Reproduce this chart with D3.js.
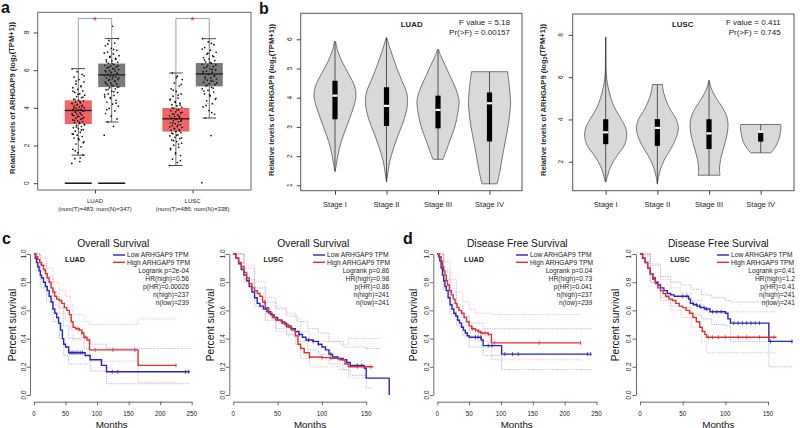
<!DOCTYPE html>
<html><head><meta charset="utf-8">
<script src="https://cdn.jsdelivr.net/npm/d3@7"></script>
<style>body{margin:0;background:#fff}svg{display:block;font-family:"Liberation Sans",Arial,sans-serif}</style>
</head><body><svg id="c" width="800" height="428"></svg>
<script>
// ================= DATA =================
// Panel a: box plots
const cancerTypes = ["LUAD", "LUSC"];
const sampleLabels = ["(num(T)=483; num(N)=347)", "(num(T)=486; num(N)=338)"];
const yTicksA = [0, 2, 4, 6, 8];
// [lowWhisker, Q1, median, Q3, highWhisker]
const boxTumor = [[1.49, 3.14, 3.86, 4.40, 6.08], [0.94, 2.74, 3.42, 3.99, 5.85]];
const boxNormal = [[3.25, 5.10, 5.75, 6.35, 7.68], [3.46, 5.14, 5.80, 6.38, 7.67]];
const dotsLuadT = [1.05,1.15,1.3,1.5,1.62,1.8,1.93,2.08,2.2,2.31,2.4,2.48,2.55,2.62,2.7,2.76,2.84,2.9,2.95,3.01,3.07,3.12,3.17,3.22,3.27,3.31,3.36,3.4,3.45,3.5,3.55,3.58,3.62,3.66,3.7,3.74,3.78,3.82,3.86,3.9,3.93,3.97,4.01,4.05,4.09,4.13,4.18,4.22,4.26,4.31,4.36,4.41,4.47,4.53,4.6,4.67,4.74,4.82,4.9,4.98,5.07,5.17,5.27,5.38,5.5,5.63,5.78,5.92,6.06,
  1.35,1.72,2.15,2.35,2.6,2.82,2.98,3.1,3.24,3.34,3.44,3.53,3.61,3.69,3.77,3.85,3.91,3.99,4.07,4.15,4.24,4.33,4.44,4.57,4.72,4.88,5.12,5.42,5.7];
const dotsLuadN = [2.55,3.02,3.25,3.41,3.56,3.7,3.84,3.97,4.09,4.2,4.31,4.4,4.49,4.58,4.66,4.74,4.81,4.88,4.95,5.01,5.07,5.12,5.17,5.22,5.27,5.32,5.37,5.42,5.46,5.51,5.55,5.59,5.63,5.67,5.71,5.75,5.79,5.83,5.87,5.91,5.95,5.99,6.03,6.08,6.12,6.17,6.21,6.26,6.31,6.36,6.42,6.48,6.55,6.62,6.69,6.77,6.86,6.95,7.05,7.16,7.29,7.43,7.58,7.68,8.33,
  3.9,4.25,4.55,4.7,4.85,4.98,5.1,5.2,5.3,5.4,5.5,5.58,5.66,5.74,5.82,5.9,5.98,6.06,6.15,6.24,6.34,6.45,6.58,6.73,6.9,7.1,7.38];
const dotsLuscT = [0.94,1.1,1.28,1.47,1.63,1.78,1.91,2.02,2.12,2.21,2.29,2.37,2.44,2.51,2.57,2.63,2.69,2.75,2.8,2.86,2.91,2.96,3.01,3.06,3.11,3.16,3.21,3.26,3.31,3.36,3.4,3.44,3.48,3.53,3.58,3.63,3.68,3.73,3.79,3.85,3.91,3.97,4.03,4.1,4.17,4.25,4.33,4.42,4.52,4.62,4.74,4.87,5.01,5.16,5.32,5.5,5.68,5.85,
  1.2,1.55,1.85,2.08,2.26,2.41,2.54,2.66,2.78,2.89,2.99,3.09,3.19,3.29,3.38,3.46,3.56,3.66,3.76,3.88,4.0,4.14,4.29,4.47,4.68,4.94,5.24,5.6];
const dotsLuscN = [0.03,2.53,3.46,3.66,3.86,4.05,4.22,4.37,4.51,4.63,4.74,4.84,4.93,5.01,5.09,5.16,5.23,5.29,5.35,5.41,5.47,5.53,5.59,5.65,5.71,5.77,5.83,5.89,5.95,6.01,6.07,6.13,6.19,6.25,6.31,6.37,6.44,6.51,6.59,6.67,6.76,6.85,6.95,7.06,7.2,7.35,7.5,7.67,
  3.75,4.13,4.45,4.69,4.89,5.05,5.2,5.32,5.44,5.56,5.68,5.8,5.92,6.04,6.16,6.28,6.41,6.55,6.72,6.9,7.12,7.42];

// Panel b: violins
const stages = ["Stage I", "Stage II", "Stage III", "Stage IV"];
const yTicksLuadB = [1, 2, 3, 4, 5, 6];
const yTicksLuscB = [2, 4, 6, 8];
// violin outlines: [value, relative half width]
const violinLuad = [
  [[1.47,0],[1.6,0.04],[2.0,0.13],[2.5,0.3],[3.0,0.55],[3.5,0.8],[3.9,0.97],[4.1,1.0],[4.4,0.93],[4.8,0.66],[5.2,0.36],[5.6,0.13],[5.92,0.03]],
  [[1.12,0],[1.3,0.04],[1.8,0.15],[2.3,0.35],[2.8,0.6],[3.3,0.86],[3.8,1.0],[4.2,0.95],[4.6,0.72],[5.0,0.5],[5.4,0.3],[5.8,0.12],[6.05,0.02]],
  [[1.89,0.24],[2.2,0.4],[2.6,0.6],[3.0,0.8],[3.5,0.95],[3.9,1.0],[4.3,0.85],[4.7,0.6],[5.1,0.35],[5.4,0.15],[5.65,0.02]],
  [[1.05,0.36],[1.5,0.5],[2.0,0.62],[2.5,0.75],[3.0,0.88],[3.5,0.97],[3.8,1.0],[4.2,0.97],[4.5,0.93],[4.89,0.86]]
];
const violinLusc = [
  [[1.05,0.02],[1.3,0.08],[1.8,0.25],[2.3,0.55],[2.8,0.9],[3.2,1.0],[3.6,0.95],[4.0,0.75],[4.5,0.45],[5.0,0.25],[5.5,0.12],[5.9,0.05],[6.3,0.02],[7.0,0.01],[7.9,0.005]],
  [[0.94,0],[1.3,0.06],[1.8,0.2],[2.3,0.45],[2.8,0.75],[3.3,0.95],[3.6,1.0],[4.0,0.9],[4.5,0.6],[5.0,0.38],[5.4,0.27],[5.65,0.24]],
  [[1.36,0.52],[1.7,0.5],[2.1,0.55],[2.6,0.68],[3.1,0.82],[3.6,0.9],[4.0,0.88],[4.5,0.68],[5.0,0.35],[5.5,0.1],[5.84,0.02]],
  [[2.42,0.48],[2.7,0.7],[3.0,0.85],[3.3,0.92],[3.6,0.97],[3.76,0.95]]
];
// [Q1, median, Q3]
const violinBoxLuad = [[3.26,4.07,4.58],[3.03,3.72,4.36],[2.95,3.58,4.07],[2.5,3.81,4.18]];
const violinBoxLusc = [[2.83,3.39,4.01],[2.75,3.6,4.02],[2.6,3.34,4.01],[2.95,3.42,3.38]];
const statsLuadB = ["F value = 5.18", "Pr(>F) = 0.00157"];
const statsLuscB = ["F value = 0.411", "Pr(>F) = 0.745"];

// Panels c,d: Kaplan-Meier curves, [months, survival]
const survTicks = [0, 0.2, 0.4, 0.6, 0.8, 1.0];
const monthTicksLong = [0, 50, 100, 150, 200, 250];
const monthTicksShort = [0, 50, 100, 150];
const legendLabels = ["Low ARHGAP9 TPM", "High ARHGAP9 TPM"];

const osLuadLow = [[0,1],[2,0.97],[4,0.94],[6,0.91],[8,0.88],[10,0.85],[12,0.83],[15,0.8],[18,0.77],[21,0.74],[24,0.7],[27,0.66],[30,0.61],[33,0.58],[36,0.55],[39,0.51],[42,0.46],[45,0.4],[47,0.36],[50,0.34],[55,0.3],[81,0.28],[89,0.25],[107,0.21],[115,0.165],[247,0.165]];
const osLuadHigh = [[0,1],[3,0.98],[6,0.96],[9,0.94],[12,0.92],[15,0.89],[18,0.86],[21,0.83],[24,0.8],[27,0.76],[30,0.73],[33,0.7],[36,0.68],[40,0.67],[44,0.65],[48,0.62],[52,0.6],[56,0.57],[59,0.52],[62,0.48],[66,0.47],[72,0.46],[76,0.44],[79,0.41],[84,0.39],[88,0.32],[165,0.21],[226,0.21]];
const osLuadLowBand = [[[0,1],[10,0.92],[20,0.84],[30,0.73],[40,0.62],[47,0.49],[55,0.4],[90,0.36],[115,0.33],[247,0.33]],
                       [[0,1],[10,0.76],[20,0.66],[30,0.52],[40,0.4],[47,0.28],[55,0.22],[90,0.17],[115,0.08],[247,0.08]]];
const osLuadHighBand = [[[0,1],[10,0.97],[20,0.9],[30,0.8],[40,0.74],[50,0.7],[58,0.64],[62,0.57],[80,0.52],[88,0.5],[165,0.54],[226,0.54]],
                        [[0,1],[10,0.88],[20,0.75],[30,0.64],[40,0.58],[50,0.53],[58,0.46],[62,0.39],[80,0.33],[88,0.24],[165,0.09],[226,0.09]]];
const osLuadLowCens = [57,60,62,65,68,71,74,77,124,133,240,245];
const osLuadHighCens = [70,76,81,97,125,160,225];
const osLuadStats = ["Logrank p=2e-04", "HR(high)=0.56", "p(HR)=0.00026", "n(high)=237", "n(low)=239"];

const osLuscLow = [[0,1],[3,0.97],[6,0.93],[9,0.89],[12,0.85],[15,0.81],[18,0.77],[21,0.73],[24,0.69],[27,0.65],[30,0.63],[34,0.61],[38,0.59],[42,0.57],[46,0.55],[50,0.53],[55,0.51],[60,0.49],[65,0.47],[70,0.45],[74,0.43],[78,0.41],[82,0.39],[90,0.38],[96,0.36],[100,0.34],[104,0.32],[108,0.29],[112,0.27],[118,0.26],[124,0.25],[128,0.23],[132,0.21],[148,0.19],[150,0.12],[176,0.0]];
const osLuscHigh = [[0,1],[3,0.97],[6,0.94],[9,0.91],[12,0.87],[15,0.83],[18,0.79],[21,0.76],[24,0.74],[27,0.72],[30,0.7],[33,0.66],[36,0.62],[40,0.58],[44,0.55],[48,0.53],[54,0.52],[58,0.5],[62,0.48],[66,0.46],[70,0.42],[73,0.36],[76,0.33],[80,0.3],[86,0.27],[100,0.265],[110,0.26],[120,0.25],[126,0.22],[130,0.2],[158,0.2]];
const osLuscLowBand = [[[0,1],[12,0.9],[24,0.76],[36,0.66],[48,0.61],[60,0.56],[72,0.52],[84,0.47],[96,0.44],[108,0.38],[124,0.34],[150,0.33],[166,0.33]],
                       [[0,1],[12,0.8],[24,0.63],[36,0.53],[48,0.47],[60,0.43],[72,0.38],[84,0.32],[96,0.29],[108,0.22],[124,0.18],[132,0.14],[150,0.05],[158,0.05]]];
const osLuscHighBand = [[[0,1],[12,0.92],[24,0.8],[36,0.69],[48,0.62],[60,0.58],[70,0.54],[76,0.45],[86,0.38],[120,0.36],[130,0.4],[166,0.4]],
                        [[0,1],[12,0.82],[24,0.68],[36,0.56],[48,0.45],[60,0.42],[70,0.36],[76,0.26],[86,0.2],[120,0.18],[130,0.12],[158,0.1]]];
const osLuscLowCens = [60,75,85,90,96,110,118,140,145];
const osLuscHighCens = [35,55,65,86,100,110,140,155];
const osLuscStats = ["Logrank p=0.86", "HR(high)=0.98", "p(HR)=0.86", "n(high)=241", "n(low)=241"];

const dfsLuadLow = [[0,1],[2,0.98],[4,0.95],[6,0.9],[8,0.85],[10,0.81],[12,0.77],[14,0.74],[17,0.69],[20,0.64],[23,0.61],[26,0.58],[29,0.56],[32,0.53],[35,0.51],[38,0.48],[41,0.46],[44,0.44],[47,0.42],[50,0.41],[69,0.39],[72,0.35],[101,0.29],[242,0.29]];
const dfsLuadHigh = [[0,1],[3,0.98],[6,0.95],[8,0.91],[10,0.88],[12,0.85],[14,0.81],[16,0.78],[19,0.74],[22,0.71],[25,0.68],[28,0.65],[31,0.62],[34,0.6],[38,0.58],[42,0.55],[46,0.52],[50,0.49],[54,0.47],[60,0.46],[64,0.45],[68,0.44],[80,0.43],[85,0.37],[226,0.37]];
const dfsLuadLowBand = [[[0,1],[10,0.88],[20,0.73],[30,0.63],[40,0.56],[50,0.51],[72,0.47],[101,0.47],[242,0.47]],
                        [[0,1],[10,0.75],[20,0.57],[30,0.49],[40,0.42],[50,0.34],[72,0.28],[101,0.18],[242,0.18]]];
const dfsLuadHighBand = [[[0,1],[10,0.95],[20,0.82],[30,0.73],[40,0.66],[50,0.61],[60,0.58],[85,0.57],[226,0.57]],
                         [[0,1],[10,0.82],[20,0.65],[30,0.55],[40,0.49],[50,0.42],[60,0.38],[85,0.25],[226,0.24]]];
const dfsLuadLowCens = [60,64,68,80,86,106,118,127,236,241];
const dfsLuadHighCens = [55,60,65,70,75,80,90,160,225];
const dfsLuadStats = ["Logrank p=0.04", "HR(high)=0.73", "p(HR)=0.041", "n(high)=237", "n(low)=239"];

const dfsLuscLow = [[0,1],[3,0.97],[6,0.94],[9,0.9],[12,0.86],[15,0.83],[18,0.8],[21,0.78],[24,0.76],[28,0.74],[32,0.72],[36,0.71],[40,0.7],[57,0.68],[59,0.65],[63,0.64],[67,0.63],[71,0.62],[76,0.61],[82,0.59],[100,0.58],[103,0.54],[106,0.51],[151,0.38],[179,0.38]];
const dfsLuscHigh = [[0,1],[3,0.97],[6,0.94],[9,0.9],[12,0.86],[15,0.82],[18,0.79],[21,0.76],[24,0.74],[27,0.72],[30,0.7],[34,0.68],[38,0.67],[42,0.65],[46,0.63],[50,0.62],[54,0.6],[58,0.58],[62,0.55],[66,0.52],[70,0.48],[73,0.45],[76,0.43],[78,0.41],[160,0.41]];
const dfsLuscLowBand = [[[0,1],[12,0.92],[24,0.84],[36,0.8],[48,0.78],[60,0.75],[72,0.71],[84,0.69],[100,0.67],[106,0.66],[151,0.66]],
                        [[0,1],[12,0.8],[24,0.69],[36,0.63],[48,0.62],[60,0.57],[72,0.54],[84,0.5],[100,0.49],[106,0.38],[151,0.2],[179,0.2]]];
const dfsLuscHighBand = [[[0,1],[12,0.93],[24,0.82],[36,0.76],[48,0.72],[60,0.67],[72,0.6],[78,0.59],[160,0.59]],
                         [[0,1],[12,0.8],[24,0.67],[36,0.6],[48,0.55],[60,0.48],[72,0.38],[78,0.3],[160,0.3]]];
const dfsLuscLowCens = [50,55,62,66,70,75,78,85,90,95,110,115,120,125,130,135,140,153,178];
const dfsLuscHighCens = [80,85,92,100,115,125,140,157];
const dfsLuscStats = ["Logrank p=0.41", "HR(high)=1.2", "p(HR)=0.41", "n(high)=241", "n(low)=241"];

// ================= DRAW =================
const svg = d3.select("#c");
const AX = "#444";
const BLUE = "#2424c8", RED = "#e4302c";
const TXT = "#222";

function rotLabel(g, x, y, txt, size, opts = {}) {
  return g.append("text").attr("transform", `translate(${x},${y}) rotate(-90)`)
    .attr("text-anchor", "middle").attr("dy", "0.35em")
    .attr("font-size", size).attr("fill", opts.fill || TXT)
    .attr("font-weight", opts.bold ? "bold" : null).text(txt);
}
function yTitleRel(g, x, y) {
  const t = g.append("text").attr("transform", `translate(${x},${y}) rotate(-90)`)
    .attr("text-anchor", "middle").attr("dy", "0.35em").attr("font-size", 7.6)
    .attr("font-weight", "bold").attr("fill", "#2a2a2a");
  t.append("tspan").text("Relative levels of ARHGAP9 (log");
  t.append("tspan").attr("font-size", 5.5).attr("dy", "0.25em").text("2");
  t.append("tspan").attr("dy", "-0.25em").text("(TPM+1))");
}
function panelLetter(x, y, l) {
  svg.append("text").attr("x", x).attr("y", y).attr("font-size", 16).attr("font-weight", "bold").attr("fill", "#111").text(l);
}

// ---------- Panel a ----------
(function () {
  const g = svg.append("g");
  const y = d3.scaleLinear().domain([-0.36, 9.07]).range([190, 12.3]);
  const x = d3.scalePoint().domain(cancerTypes).range([95, 192.6]);
  const off = 16.7, bw = 27;
  const jit = i => ((i * 0.6180339887) % 1) - 0.5;
  g.append("rect").attr("x", 37.7).attr("y", 12.3).attr("width", 213.3).attr("height", 177.7)
    .attr("fill", "none").attr("stroke", "#666").attr("stroke-width", 1);
  g.append("g").attr("transform", "translate(37.7,0)")
    .call(d3.axisLeft(y).tickValues(yTicksA).tickSize(4).tickFormat(""))
    .call(a => a.select(".domain").remove()).selectAll("line").attr("stroke", AX);
  yTicksA.forEach(t => rotLabel(g, 27, y(t), t, 6.5));
  g.append("g").attr("transform", "translate(0,190)")
    .call(d3.axisBottom(x).tickSize(3.5).tickFormat(""))
    .call(a => a.select(".domain").remove()).selectAll("line").attr("stroke", AX);
  cancerTypes.forEach((ct, i) => {
    g.append("text").attr("x", x(ct)).attr("y", 203).attr("text-anchor", "middle").attr("font-size", 6).attr("fill", TXT).text(ct);
    g.append("text").attr("x", x(ct)).attr("y", 211).attr("text-anchor", "middle").attr("font-size", 6).attr("fill", TXT).text(sampleLabels[i]);
  });
  const groups = [
    { ct: "LUAD", side: -1, box: boxTumor[0], dots: dotsLuadT, fill: "#f26464", jw: 13 },
    { ct: "LUAD", side: 1, box: boxNormal[0], dots: dotsLuadN, fill: "#7a7a7a", jw: 15 },
    { ct: "LUSC", side: -1, box: boxTumor[1], dots: dotsLuscT, fill: "#f26464", jw: 13 },
    { ct: "LUSC", side: 1, box: boxNormal[1], dots: dotsLuscN, fill: "#7a7a7a", jw: 15 }
  ];
  groups.forEach(gr => {
    const cx = x(gr.ct) + gr.side * off;
    const b = gr.box;
    g.append("line").attr("x1", cx).attr("x2", cx).attr("y1", y(b[0])).attr("y2", y(b[4])).attr("stroke", "#333").attr("stroke-width", 0.7);
    g.append("rect").attr("x", cx - bw / 2).attr("width", bw).attr("y", y(b[3])).attr("height", y(b[1]) - y(b[3])).attr("fill", gr.fill);
    [b[0], b[4]].forEach(v => g.append("line").attr("x1", cx - bw / 4).attr("x2", cx + bw / 4).attr("y1", y(v)).attr("y2", y(v)).attr("stroke", "#222").attr("stroke-width", 0.8));
    gr.dots.forEach((v, i) => g.append("circle").attr("cx", cx + jit(i) * gr.jw).attr("cy", y(v)).attr("r", 0.85).attr("fill", "#111"));
    g.append("line").attr("x1", cx - bw / 2).attr("x2", cx + bw / 2).attr("y1", y(b[2])).attr("y2", y(b[2])).attr("stroke", "#222").attr("stroke-width", 1.4);
    if (gr.ct === "LUAD") {
      g.append("line").attr("x1", cx - bw / 2).attr("x2", cx + bw / 2).attr("y1", y(0)).attr("y2", y(0)).attr("stroke", "#111").attr("stroke-width", 1.5);
    }
  });
  cancerTypes.forEach((ct, i) => {
    const xl = x(ct) - off, xr = x(ct) + off, top = y(8.74);
    g.append("path").attr("d", `M${xl},${y(boxTumor[i][4]) - 1}V${top}H${xr}V${y(boxNormal[i][4]) - 1}`)
      .attr("fill", "none").attr("stroke", "#888").attr("stroke-width", 0.8);
    g.append("text").attr("x", x(ct)).attr("y", top + 4).attr("text-anchor", "middle").attr("font-size", 9).attr("font-weight", "bold").attr("fill", "#e33").text("*");
  });
  yTitleRel(g, 12, 98);
})();
panelLetter(1, 13, "a");

// ---------- Panel b ----------
function violinPanel(p) {
  const g = svg.append("g");
  const y = d3.scaleLinear().domain(p.yDom).range([p.y2, p.y1]);
  const x = d3.scalePoint().domain(stages).range(p.xr);
  const w = d3.scaleLinear().domain([0, 1]).range([0, p.maxW]);
  g.append("rect").attr("x", p.x1).attr("y", p.y1).attr("width", p.x2 - p.x1).attr("height", p.y2 - p.y1)
    .attr("fill", "none").attr("stroke", "#555").attr("stroke-width", 1);
  g.append("g").attr("transform", `translate(${p.x1},0)`)
    .call(d3.axisLeft(y).tickValues(p.ticks).tickSize(4).tickFormat(""))
    .call(a => a.select(".domain").remove()).selectAll("line").attr("stroke", AX);
  p.ticks.forEach(t => rotLabel(g, p.tickLabX, y(t), t, 6.5));
  g.append("g").attr("transform", `translate(0,${p.y2})`)
    .call(d3.axisBottom(x).tickSize(4).tickFormat(""))
    .call(a => a.select(".domain").remove()).selectAll("line").attr("stroke", AX);
  stages.forEach(s => g.append("text").attr("x", x(s)).attr("y", 206.7).attr("text-anchor", "middle")
    .attr("font-size", 7.5).attr("fill", TXT).text(s));
  stages.forEach((s, i) => {
    const cx = x(s);
    const v = p.violins[i];
    const area = d3.area().y(d => y(d[0])).x0(d => cx - w(d[1])).x1(d => cx + w(d[1])).curve(d3.curveCatmullRom);
    g.append("path").attr("d", area(v)).attr("fill", "#d9d9d9").attr("stroke", "#555").attr("stroke-width", 0.8);
    g.append("line").attr("x1", cx).attr("x2", cx).attr("y1", y(v[0][0])).attr("y2", y(v[v.length - 1][0]))
      .attr("stroke", "#333").attr("stroke-width", 0.8);
    const b = p.boxes[i];
    const lo = Math.min(b[0], b[2]), hi = Math.max(b[0], b[2]);
    g.append("rect").attr("x", cx - 2.6).attr("width", 5.2).attr("y", y(hi)).attr("height", y(lo) - y(hi)).attr("fill", "#000");
    g.append("rect").attr("x", cx - 2.6).attr("width", 5.2).attr("y", y(b[1]) - 1.1).attr("height", 2.2).attr("fill", "#fff");
  });
  g.append("text").attr("x", p.tagX).attr("y", 26.7).attr("text-anchor", "middle").attr("font-size", 7.8)
    .attr("font-weight", "bold").attr("fill", "#222").text(p.tag);
  p.stats.forEach((s, i) => g.append("text").attr("x", p.statX).attr("y", 24.8 + i * 10).attr("text-anchor", "end")
    .attr("font-size", 8).attr("fill", "#222").text(s));
  yTitleRel(g, p.yTitleX, 100);
}
violinPanel({ x1: 300.7, x2: 522, y1: 13.3, y2: 190.7, yDom: [0.815, 6.89], xr: [335, 489.5], maxW: 21,
  ticks: yTicksLuadB, tickLabX: 290, violins: violinLuad, boxes: violinBoxLuad, tag: "LUAD", tagX: 411.7,
  stats: statsLuadB, statX: 510, yTitleX: 271.7 });
violinPanel({ x1: 572.7, x2: 794, y1: 14, y2: 190.7, yDom: [0.628, 8.99], xr: [605.7, 760.7], maxW: 21,
  ticks: yTicksLuscB, tickLabX: 561, violins: violinLusc, boxes: violinBoxLusc, tag: "LUSC", tagX: 682.7,
  stats: statsLuscB, statX: 780.7, yTitleX: 543.3 });
panelLetter(259, 14, "b");

// ---------- Panels c, d ----------
function survAt(curve, t) {
  let v = curve[0][1];
  for (const d of curve) { if (d[0] <= t) v = d[1]; else break; }
  return v;
}
function kmPanel(p) {
  const g = svg.append("g");
  const x = d3.scaleLinear().domain([0, p.tickMax]).range([p.x0, p.x1]);
  const y = d3.scaleLinear().domain([0, 1]).range([395, 254]);
  const ya = g.append("g").attr("transform", `translate(${p.x0 - 4},0)`)
    .call(d3.axisLeft(y).tickValues(survTicks).tickSize(3.5).tickSizeOuter(0).tickFormat(""));
  const xa = g.append("g").attr("transform", "translate(0,401.7)")
    .call(d3.axisBottom(x).tickValues(p.ticks).tickSize(3.5).tickSizeOuter(0).tickFormat(""));
  [ya, xa].forEach(a => { a.selectAll("line,path").attr("stroke", AX).attr("stroke-width", 0.8); });
  survTicks.forEach(t => rotLabel(g, p.yLabX, y(t), d3.format(".1f")(t), 6.3));
  p.ticks.forEach(t => g.append("text").attr("x", x(t)).attr("y", 415.5).attr("text-anchor", "middle")
    .attr("font-size", 6.3).attr("fill", TXT).text(t));
  const line = d3.line().x(d => x(d[0])).y(d => y(d[1])).curve(d3.curveStepAfter);
  [[p.lowBand, "#8c8cf0"], [p.highBand, "#f29a9a"]].forEach(([bands, col]) => bands.forEach(b =>
    g.append("path").attr("d", line(b)).attr("fill", "none").attr("stroke", col).attr("stroke-width", 0.8)
      .attr("stroke-dasharray", "1.2,1.2").attr("opacity", 0.85)));
  [[p.low, p.lowCens, BLUE], [p.high, p.highCens, RED]].forEach(([c, cens, col]) => {
    g.append("path").attr("d", line(c)).attr("fill", "none").attr("stroke", col).attr("stroke-width", 1.4);
    cens.forEach(t => {
      const yy = y(survAt(c, t));
      g.append("line").attr("x1", x(t)).attr("x2", x(t)).attr("y1", yy - 2).attr("y2", yy + 2).attr("stroke", col).attr("stroke-width", 0.8);
    });
  });
  g.append("text").attr("x", p.titleX).attr("y", 247).attr("text-anchor", "middle").attr("font-size", 10.3).attr("fill", "#111").text(p.title);
  rotLabel(g, p.yTitleX, 325, "Percent survival", 10.2, { fill: "#111" });
  g.append("text").attr("x", p.monthsX).attr("y", 427.5).attr("text-anchor", "middle").attr("font-size", 9.8).attr("fill", "#111").text("Months");
  g.append("text").attr("x", p.tagX).attr("y", 261.5).attr("text-anchor", "middle").attr("font-size", 7.2)
    .attr("font-weight", "bold").attr("fill", "#222").text(p.tag);
  [BLUE, RED].forEach((col, i) => {
    const yy = 255 + i * 7.3;
    g.append("line").attr("x1", p.legX).attr("x2", p.legX + 12).attr("y1", yy).attr("y2", yy).attr("stroke", col).attr("stroke-width", 1.4);
    g.append("text").attr("x", p.legX + 14).attr("y", yy + 2.4).attr("font-size", 6.7).attr("fill", "#222").text(legendLabels[i]);
  });
  p.stats.forEach((s, i) => g.append("text").attr("x", p.statX).attr("y", 273 + i * 8).attr("text-anchor", "end")
    .attr("font-size", 6.7).attr("fill", "#222").text(s));
}
kmPanel({ x0: 34, x1: 191.7, tickMax: 250, ticks: monthTicksLong, yLabX: 24, title: "Overall Survival", titleX: 113.3,
  yTitleX: 12.7, monthsX: 111.7, tag: "LUAD", tagX: 75, legX: 113, statX: 189,
  low: osLuadLow, high: osLuadHigh, lowBand: osLuadLowBand, highBand: osLuadHighBand,
  lowCens: osLuadLowCens, highCens: osLuadHighCens, stats: osLuadStats });
kmPanel({ x0: 233.3, x1: 366.2, tickMax: 150, ticks: monthTicksShort, yLabX: 222.7, title: "Overall Survival", titleX: 313.3,
  yTitleX: 210, monthsX: 310, tag: "LUSC", tagX: 273.3, legX: 313, statX: 389.3,
  low: osLuscLow, high: osLuscHigh, lowBand: osLuscLowBand, highBand: osLuscHighBand,
  lowCens: osLuscLowCens, highCens: osLuscHighCens, stats: osLuscStats });
kmPanel({ x0: 437.3, x1: 596.5, tickMax: 250, ticks: monthTicksLong, yLabX: 426.7, title: "Disease Free Survival", titleX: 517.3,
  yTitleX: 413.3, monthsX: 516.7, tag: "LUAD", tagX: 474, legX: 516, statX: 592.3,
  low: dfsLuadLow, high: dfsLuadHigh, lowBand: dfsLuadLowBand, highBand: dfsLuadHighBand,
  lowCens: dfsLuadLowCens, highCens: dfsLuadHighCens, stats: dfsLuadStats });
kmPanel({ x0: 640, x1: 768, tickMax: 150, ticks: monthTicksShort, yLabX: 628.3, title: "Disease Free Survival", titleX: 718.3,
  yTitleX: 615, monthsX: 718.3, tag: "LUSC", tagX: 680, legX: 717, statX: 795,
  low: dfsLuscLow, high: dfsLuscHigh, lowBand: dfsLuscLowBand, highBand: dfsLuscHighBand,
  lowCens: dfsLuscLowCens, highCens: dfsLuscHighCens, stats: dfsLuscStats });
panelLetter(2, 244, "c");
panelLetter(403, 244, "d");
</script></body></html>
